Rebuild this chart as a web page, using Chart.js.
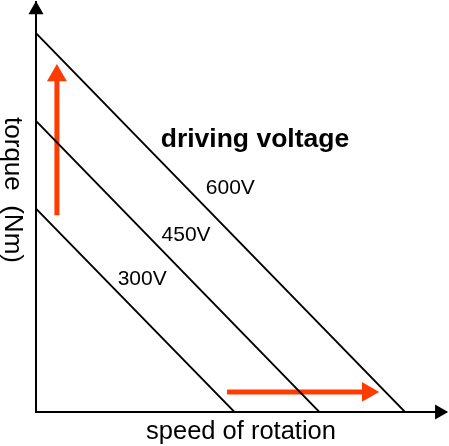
<!DOCTYPE html>
<html>
<head>
<meta charset="utf-8">
<script src="https://cdn.jsdelivr.net/npm/chart.js@4/dist/chart.umd.min.js"></script>
<style>
  html, body { margin: 0; padding: 0; background: #fff; }
  canvas { display: block; }
</style>
</head>
<body>
<canvas id="torqueChart" width="449" height="446"></canvas>
<script>
// speed / torque in % of the drawn axis length
const voltages = ['600V', '450V', '300V'];
const torqueAtStall = [92.4, 71.0, 49.6];
const speedAtNoLoad = [90.0, 69.1, 48.4];

// where each voltage label sits (data units)
const labelSpeed = [47.4, 36.6, 25.9];
const labelTorque = [53.2, 41.7, 31.0];

// red "increase" arrows: [start, head]
const upArrowSpeed = [5.1, 5.1];
const upArrowTorque = [48.0, 82.1];
const rightArrowSpeed = [46.6, 80.9];
const rightArrowTorque = [4.9, 4.9];

const legendTitle = 'driving voltage';
const xTitle = 'speed of rotation';
const yTitle = 'torque  (Nm)';

const RED = '#ff3c00';
const FONT = '"Liberation Sans", Arial, sans-serif';

const chartEl = document.getElementById('torqueChart');

function lineFor(i) {
  return {
    label: voltages[i],
    data: [
      { x: 0, y: torqueAtStall[i] },
      { x: speedAtNoLoad[i], y: 0 }
    ],
    showLine: true,
    borderColor: '#000',
    borderWidth: 1.8,
    pointRadius: 0
  };
}

function arrowFor(xs, ys, rotation) {
  return {
    data: xs.map((x, i) => ({ x, y: ys[i] })),
    showLine: true,
    borderColor: RED,
    borderWidth: 5,
    pointStyle: 'triangle',
    pointRadius: [0, 11.5],
    pointRotation: rotation,
    pointBackgroundColor: RED,
    pointBorderColor: RED,
    pointBorderWidth: 0,
    clip: false
  };
}

function axisHead(x, y, rotation) {
  return {
    data: [{ x, y }],
    pointStyle: 'triangle',
    pointRadius: 8.7,
    pointRotation: rotation,
    pointBackgroundColor: '#000',
    pointBorderColor: '#000',
    pointBorderWidth: 0,
    clip: false
  };
}

const textPlugin = {
  id: 'textLabels',
  afterDraw(chart) {
    const { ctx, chartArea, scales: { x, y } } = chart;
    ctx.save();
    ctx.fillStyle = '#000';
    ctx.textAlign = 'center';
    ctx.textBaseline = 'alphabetic';

    ctx.font = 'bold 26.5px ' + FONT;
    ctx.fillText(legendTitle, x.getPixelForValue(53.4), y.getPixelForValue(64.6));

    ctx.font = '21px ' + FONT;
    voltages.forEach((v, i) => {
      ctx.fillText(v, x.getPixelForValue(labelSpeed[i]), y.getPixelForValue(labelTorque[i]));
    });

    ctx.font = '25.5px ' + FONT;
    ctx.fillText(xTitle, (chartArea.left + chartArea.right) / 2, chart.height - 7);

    ctx.translate(12, 190);
    ctx.rotate(Math.PI / 2);
    ctx.textBaseline = 'middle';
    ctx.font = '26px ' + FONT;
    ctx.fillText(yTitle, 0, 0);
    ctx.restore();
  }
};

const hiddenAxis = (size, isX) => ({
  type: 'linear',
  min: 0,
  max: 100,
  grid: { display: false, drawTicks: false },
  ticks: { display: false },
  border: { display: true, color: '#000', width: 2 },
  afterFit: scale => {
    if (isX) scale.height = size;
    else scale.width = size;
  }
});

new Chart(chartEl, {
  type: 'scatter',
  data: {
    datasets: [
      lineFor(0),
      lineFor(1),
      lineFor(2),
      arrowFor(upArrowSpeed, upArrowTorque, 0),
      arrowFor(rightArrowSpeed, rightArrowTorque, 90),
      axisHead(0, 98.1, 0),
      axisHead(98.4, 0, 90)
    ]
  },
  options: {
    responsive: false,
    animation: false,
    events: [],
    layout: {
      autoPadding: false,
      padding: { top: 2, right: 3, left: 0, bottom: 0 }
    },
    plugins: {
      legend: { display: false },
      tooltip: { enabled: false }
    },
    scales: {
      x: hiddenAxis(34, true),
      y: hiddenAxis(36, false)
    }
  },
  plugins: [textPlugin]
});
</script>
</body>
</html>
